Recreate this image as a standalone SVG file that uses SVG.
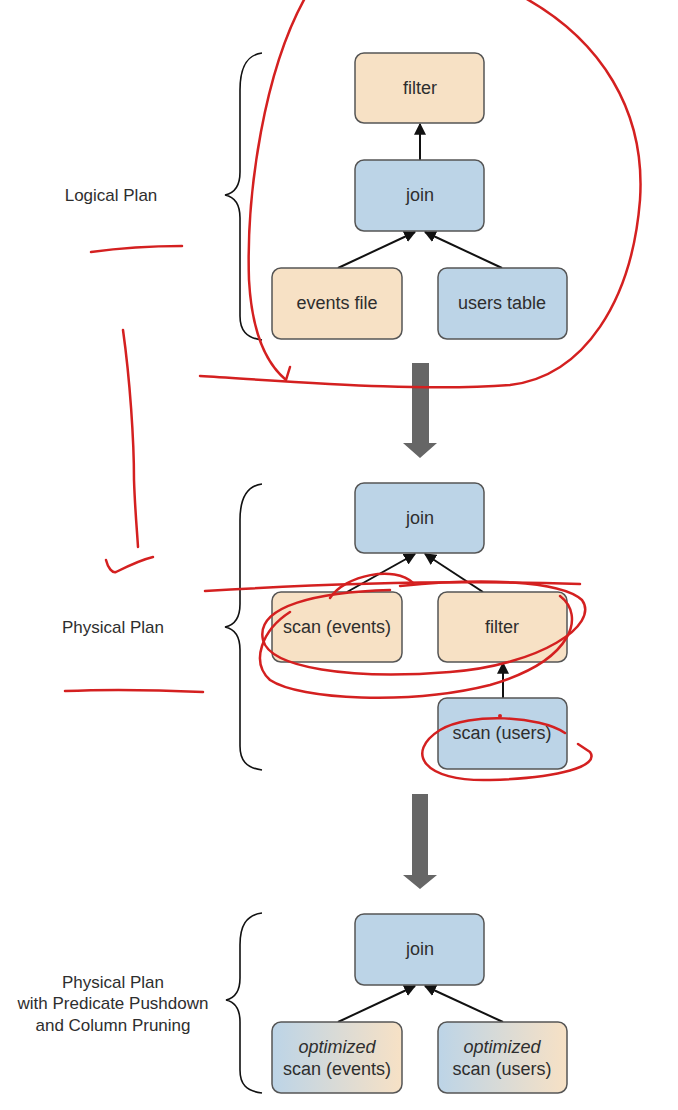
<svg xmlns="http://www.w3.org/2000/svg" width="678" height="1110" viewBox="0 0 678 1110">
<defs>
<style>
.n{stroke:#555;stroke-width:1.5}
.or{fill:#f7e1c5}
.bl{fill:#bcd4e7}
.t{font-family:"Liberation Sans Narrow","Liberation Sans",sans-serif;font-size:18px;fill:#2e2e2e;text-anchor:middle}
.lab{font-family:"Liberation Sans Narrow","Liberation Sans",sans-serif;font-size:17px;fill:#2e2e2e;text-anchor:middle}
.c{stroke:#111;stroke-width:2;fill:none;marker-end:url(#ah)}
.br{stroke:#111;stroke-width:1.6;fill:none}
.big{fill:#666}
.red{stroke:#d42020;stroke-width:2.5;fill:none;stroke-linecap:round;stroke-linejoin:round}
</style>
<marker id="ah" viewBox="0 0 10 10" refX="9" refY="5" markerWidth="6" markerHeight="6" orient="auto" markerUnits="strokeWidth">
<path d="M0 0 L10 5 L0 10 Z" fill="#111"/>
</marker>
<linearGradient id="gr" x1="0" y1="0" x2="1" y2="0">
<stop offset="0" stop-color="#bcd4e7"/>
<stop offset="1" stop-color="#f7e1c5"/>
</linearGradient>
</defs>
<rect width="678" height="1110" fill="#fff"/>

<!-- labels -->
<text class="lab" x="111" y="201">Logical Plan</text>
<text class="lab" x="113" y="633">Physical Plan</text>
<text class="lab" x="113" y="988">Physical Plan</text>
<text class="lab" x="113" y="1009">with Predicate Pushdown</text>
<text class="lab" x="113" y="1031">and Column Pruning</text>

<!-- braces -->
<path class="br" d="M262 53 C246 55 240 68 240 90 L240 172 C240 186 235 193 225 195 C235 197 240 204 240 218 L240 316 C240 330 246 338 262 340"/>
<path class="br" d="M262 484 C246 486 240 499 240 520 L240 604 C240 618 235 625 225 627 C235 629 240 636 240 650 L240 746 C240 760 246 768 262 770"/>
<path class="br" d="M262 913 C246 915 240 926 240 945 L240 978 C240 992 235 998 226 1000 C235 1002 240 1008 240 1022 L240 1070 C240 1084 246 1091 262 1093"/>

<!-- big arrows -->
<path class="big" d="M412 363 H429 V443 H437 L420 458 L403 443 H412 Z"/>
<path class="big" d="M412 794 H428 V875 H437 L420 889 L403 875 H412 Z"/>

<!-- connectors -->
<g id="connectors">
<line class="c" x1="420" y1="160" x2="420" y2="124"/>
<line class="c" x1="338" y1="268" x2="415" y2="232"/>
<line class="c" x1="502" y1="268" x2="425" y2="232"/>
<line class="c" x1="347" y1="592" x2="415" y2="554"/>
<line class="c" x1="483" y1="592" x2="425" y2="554"/>
<line class="c" x1="503" y1="698" x2="503" y2="663"/>
<line class="c" x1="338" y1="1022" x2="415" y2="986"/>
<line class="c" x1="503" y1="1022" x2="425" y2="986"/>
</g>

<!-- logical plan -->
<g id="lp-filter"><rect class="n or" x="355" y="53" width="129" height="70" rx="9"/><text class="t" x="420" y="94">filter</text></g>
<g id="lp-join"><rect class="n bl" x="355" y="160" width="129" height="71" rx="9"/><text class="t" x="420" y="201">join</text></g>
<g id="lp-events"><rect class="n or" x="272" y="268" width="130" height="71" rx="9"/><text class="t" x="337" y="309">events file</text></g>
<g id="lp-users"><rect class="n bl" x="438" y="268" width="129" height="71" rx="9"/><text class="t" x="502" y="309">users table</text></g>

<!-- physical plan -->
<g id="pp-join"><rect class="n bl" x="355" y="483" width="129" height="70" rx="9"/><text class="t" x="420" y="524">join</text></g>
<g id="pp-scan-events"><rect class="n or" x="272" y="592" width="130" height="70" rx="9"/><text class="t" x="337" y="633">scan (events)</text></g>
<g id="pp-filter"><rect class="n or" x="438" y="592" width="129" height="70" rx="9"/><text class="t" x="502" y="633">filter</text></g>
<g id="pp-scan-users"><rect class="n bl" x="438" y="698" width="129" height="71" rx="9"/><text class="t" x="502" y="739">scan (users)</text></g>

<!-- optimized plan -->
<g id="op-join"><rect class="n bl" x="355" y="914" width="129" height="71" rx="9"/><text class="t" x="420" y="955">join</text></g>
<g id="op-scan-events"><rect class="n" fill="url(#gr)" x="272" y="1022" width="130" height="71" rx="9"/><text class="t" x="337" y="1053" font-style="italic">optimized</text><text class="t" x="337" y="1075">scan (events)</text></g>
<g id="op-scan-users"><rect class="n" fill="url(#gr)" x="438" y="1022" width="129" height="71" rx="9"/><text class="t" x="502" y="1053" font-style="italic">optimized</text><text class="t" x="502" y="1075">scan (users)</text></g>

<!-- red annotations -->
<g id="annotations">
<path class="red" d="M305 -2 C265 70 246 190 249 280 C252 335 268 365 286 380 L290 367"/>
<path class="red" d="M200 376 C300 382 420 392 510 385 C585 376 632 300 640 200 C646 110 600 40 525 -2"/>
<path class="red" d="M91 252 C120 248 150 246 182 246"/>
<path class="red" d="M123 330 C130 380 134 440 134 480 C135 510 137 530 138 547"/>
<path class="red" d="M106 560 C108 568 112 573 116 572 C128 566 140 560 153 557"/>
<path class="red" d="M205 591 C320 584 460 580 580 584"/>
<path class="red" d="M65 691 C110 689 160 690 203 692"/>
<path class="red" d="M330 598 C345 575 395 565 413 583"/>
<path class="red" d="M400 586 C480 578 560 580 582 600 C600 625 540 665 450 672 C350 680 270 668 263 640 C255 605 320 592 390 590"/>
<path class="red" d="M560 596 C585 615 575 660 490 685 C410 705 300 700 270 680 C250 662 262 630 290 612"/>
<path class="red" d="M565 733 C540 716 470 712 440 730 C405 752 422 782 490 780 C560 778 600 766 590 752 L578 744"/>
<circle cx="500" cy="716" r="2" fill="#d42020"/>
</g>
</svg>
